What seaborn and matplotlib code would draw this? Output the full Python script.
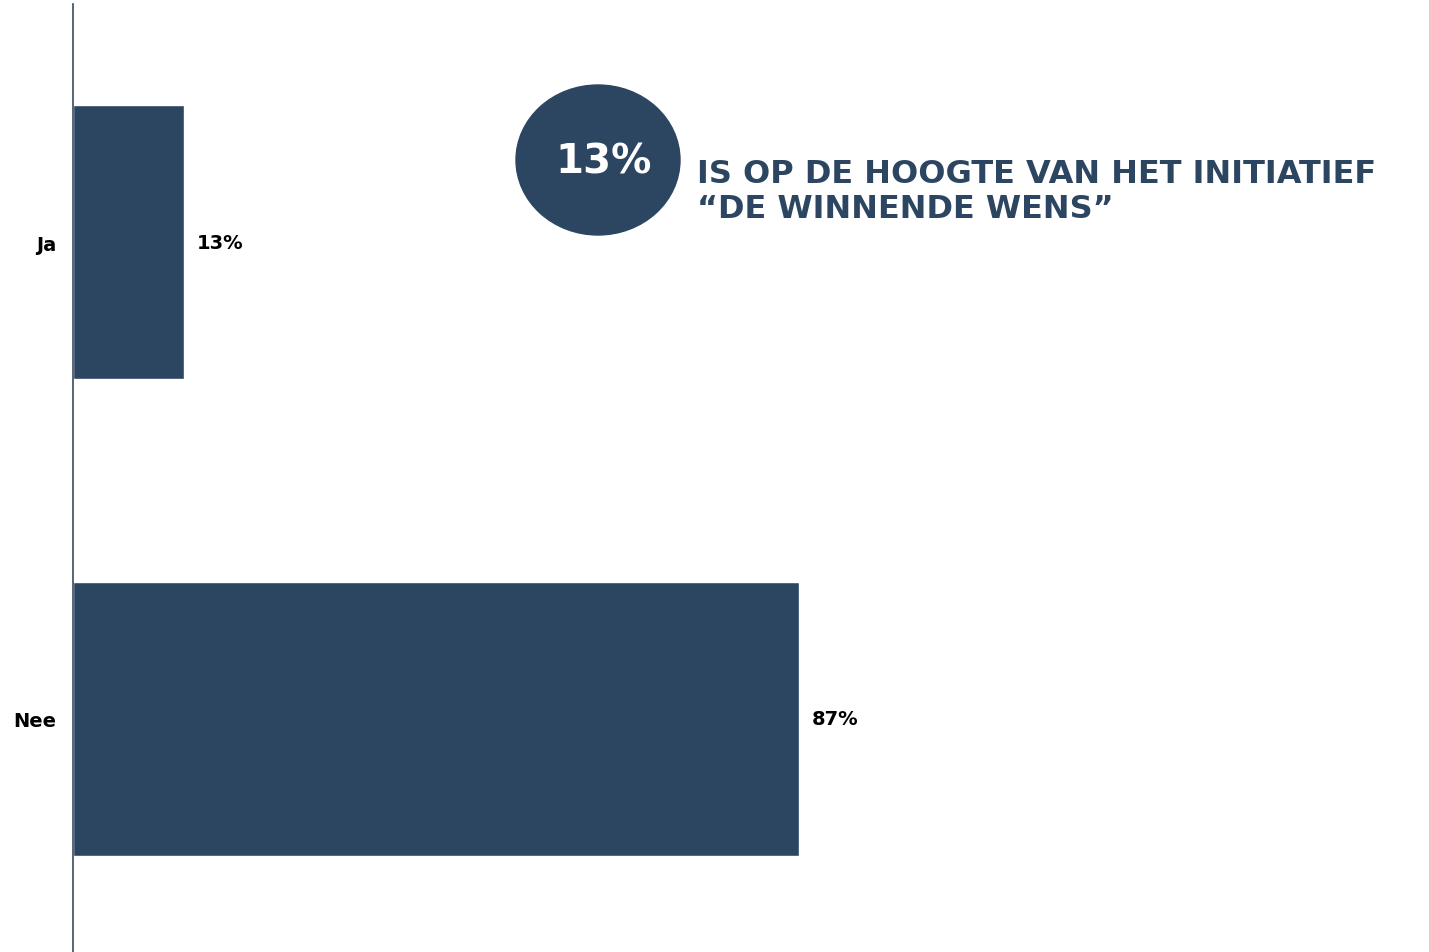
import pandas as pd
import seaborn as sns
import matplotlib.pyplot as plt
from matplotlib.patches import Ellipse

# data
categories = ["Ja", "Nee"]
values = [13.3, 86.7]
value_labels = ["13%", "87%"]
highlight = "13%"
headline = "IS OP DE HOOGTE VAN HET INITIATIEF\n\u201cDE WINNENDE WENS\u201d"

navy = "#2c4662"
W, H = 1429, 953

sns.set_style("white")
plt.rcParams['font.family'] = ['DejaVu Sans']

df = pd.DataFrame({"antwoord": categories, "pct": values})

fig = plt.figure(figsize=(W / 100, H / 100), dpi=100)
ax = fig.add_axes([73 / W, 0, 1 - 73 / W, 1 - 5 / H])

sns.barplot(data=df, x="pct", y="antwoord", orient="h", color=navy,
            saturation=1, width=0.575, ax=ax)

ax.set_xlim(0, 161.9)
ax.set_ylim(1.49, -0.5)
ax.set_xlabel("")
ax.set_ylabel("")
ax.set_xticks([])
for s in ["top", "right", "bottom"]:
    ax.spines[s].set_visible(False)
ax.spines["left"].set_color("#3a4a5c")
ax.spines["left"].set_linewidth(1.2)
ax.tick_params(axis="y", length=0, pad=12)
for lbl in ax.get_yticklabels():
    lbl.set_fontweight("bold")
    lbl.set_fontsize(14)
    lbl.set_color("black")

ax.bar_label(ax.containers[0], labels=value_labels, padding=9,
             fontsize=14, fontweight="bold", color="black")

# circle callout
fig.patches.append(Ellipse((598 / W, 1 - 161 / H), 164 / W, 150 / H,
                           transform=fig.transFigure, color=navy, zorder=0))
fig.text(603.5 / W, 1 - 163 / H, highlight, ha="center", va="center",
         fontsize=29, fontweight="bold", color="white")
fig.text(697 / W, 1 - 192 / H, headline, ha="left", va="center",
         fontsize=23, fontweight="bold", color=navy, linespacing=1.2)

fig.savefig("out.png", dpi=100, facecolor="white")
